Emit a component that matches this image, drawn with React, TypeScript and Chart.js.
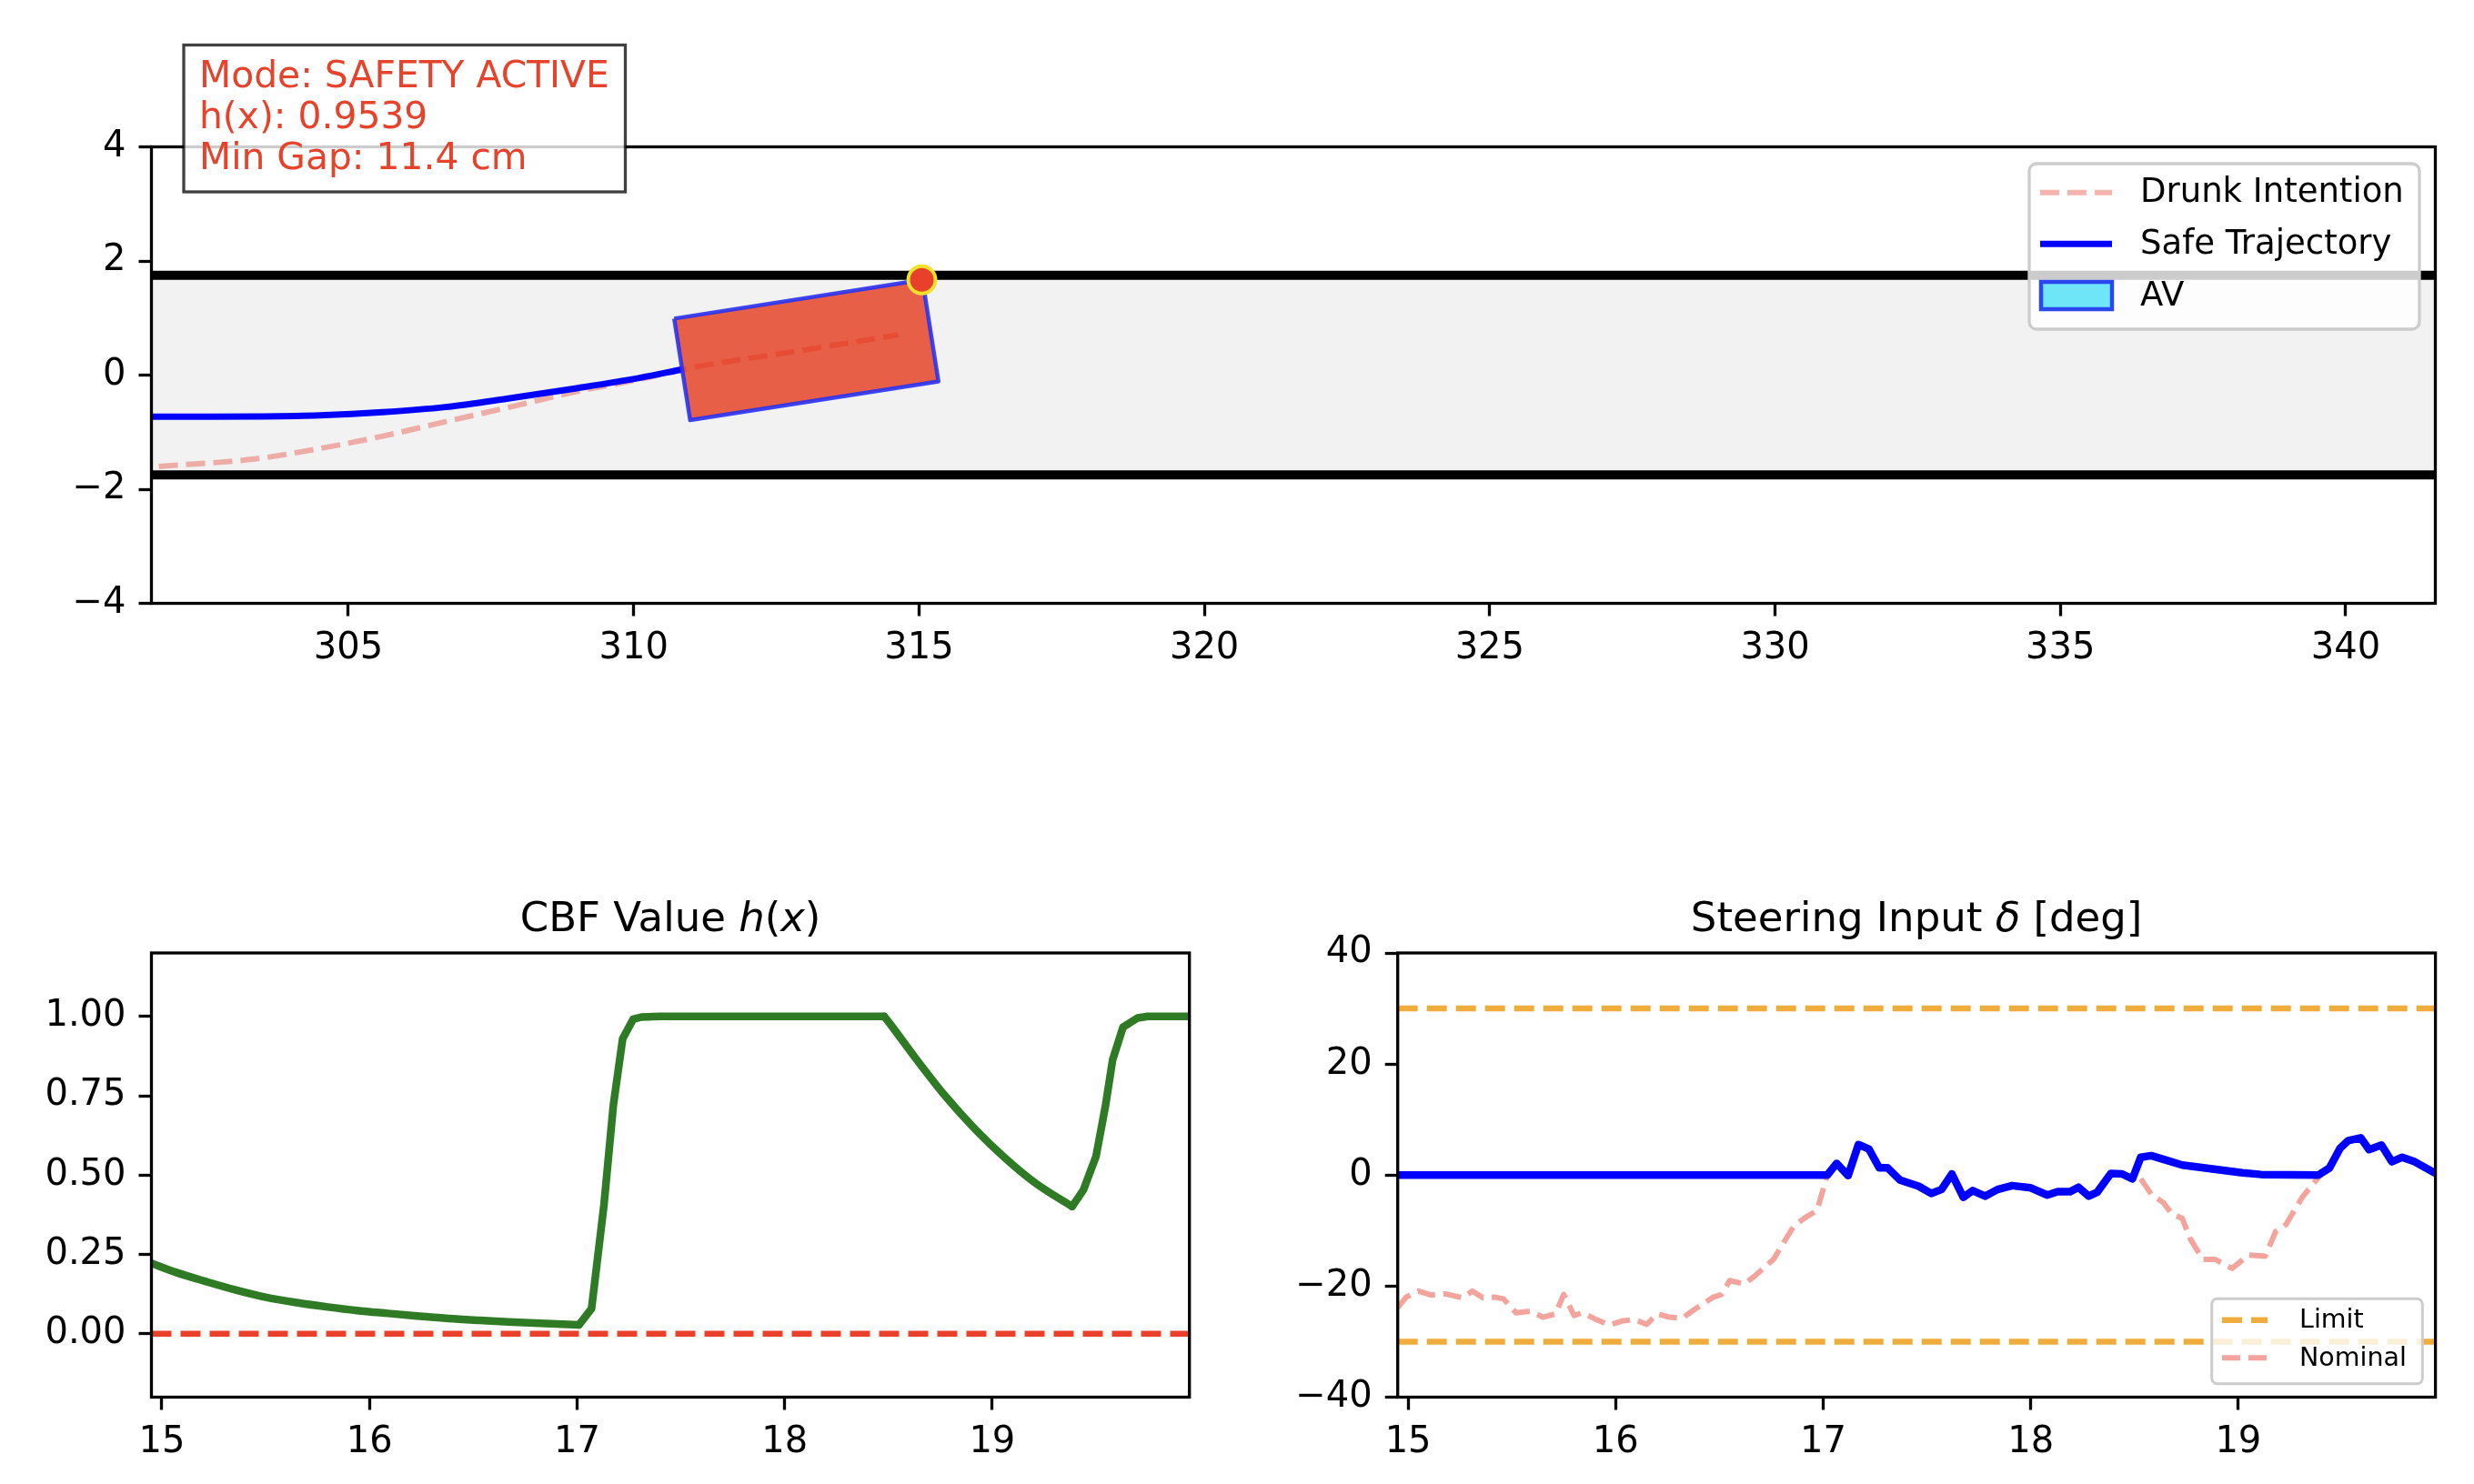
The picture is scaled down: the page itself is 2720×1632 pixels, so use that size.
import React, { useEffect, useRef } from 'react';
import { Chart, registerables } from 'chart.js';

Chart.register(...registerables);

const FONT = '"DejaVu Sans", "Liberation Sans", sans-serif';
const RED = '#e5432b';

// ---------------- Road (top) view ----------------
const roadXTicks = [305, 310, 315, 320, 325, 330, 335, 340];
const roadYTicks = [-4, -2, 0, 2, 4];
const roadXLim = [301.55, 341.57];
const roadYLim = [-4, 4];
const laneEdges = [1.75, -1.75];

const safeTrajX = [301.5, 302.5, 303.5, 304.5, 305.6, 306.7, 307.8, 309.0, 310.1, 310.85];
const safeTrajY = [-0.73, -0.73, -0.725, -0.705, -0.65, -0.56, -0.41, -0.23, -0.05, 0.1];

const drunkX = [301.68, 303.36, 304.48, 305.6, 306.71, 307.83, 308.95, 310.07, 311.05, 312.8, 314.64];
const drunkY = [-1.6, -1.47, -1.29, -1.07, -0.815, -0.56, -0.3, -0.08, 0.136, 0.41, 0.705];

const carX = [310.71, 315.06, 315.34, 310.99];
const carY = [0.99, 1.67, -0.11, -0.79];

const collisionX = [315.05];
const collisionY = [1.67];

const infoLines = ['Mode: SAFETY ACTIVE', 'h(x): 0.9539', 'Min Gap: 11.4 cm'];
const roadLegend = ['Drunk Intention', 'Safe Trajectory', 'AV'];

// ---------------- CBF value ----------------
const timeLim = [14.95, 19.95];
const timeTicks = [15, 16, 17, 18, 19];
const cbfLim = [-0.2, 1.2];
const cbfTicks = [0, 0.25, 0.5, 0.75, 1.0];
// smooth decay before intervention
const cbfDecay1T = [14.95, 15.07, 15.21, 15.36, 15.5, 15.65, 15.8, 15.94, 16.09, 16.23, 16.38, 16.53, 16.67, 16.85, 17.01];
const cbfDecay1H = [0.222, 0.193, 0.165, 0.137, 0.115, 0.098, 0.084, 0.073, 0.064, 0.056, 0.048, 0.042, 0.037, 0.032, 0.028];
// recovery and plateau
const cbfRiseT = [17.01, 17.07, 17.13, 17.175, 17.22, 17.27, 17.31, 17.4, 18.48];
const cbfRiseH = [0.028, 0.079, 0.407, 0.72, 0.93, 0.991, 0.998, 1.0, 1.0];
// second decay
const cbfDecay2T = [18.48, 18.52, 18.63, 18.77, 18.92, 19.06, 19.21, 19.385];
const cbfDecay2H = [1.0, 0.966, 0.869, 0.752, 0.643, 0.555, 0.474, 0.401];
// second recovery
const cbfRise2T = [19.385, 19.44, 19.5, 19.546, 19.58, 19.63, 19.7, 19.75, 19.95];
const cbfRise2H = [0.401, 0.454, 0.559, 0.72, 0.863, 0.966, 0.995, 1.0, 1.0];
const cbfBoundary = 0;

// ---------------- Steering input ----------------
const steerLim = [-40, 40];
const steerTicks = [-40, -20, 0, 20, 40];
const steerLimit = 30;
const safeSteerT = [
  14.95, 17.02, 17.065, 17.12, 17.17, 17.22, 17.27, 17.31, 17.37, 17.46, 17.52, 17.57, 17.62,
  17.675, 17.72, 17.78, 17.84, 17.91, 18.0, 18.08, 18.13, 18.19, 18.23, 18.28, 18.32, 18.386,
  18.44, 18.49, 18.53, 18.58, 18.66, 18.73, 18.875, 19.02, 19.11, 19.386, 19.44, 19.49, 19.53,
  19.59, 19.63, 19.69, 19.74, 19.79, 19.85, 19.95,
];
const safeSteer = [
  0, 0, 2.1, -0.1, 5.5, 4.7, 1.3, 1.3, -0.9, -2.0, -3.3, -2.6, 0.2,
  -4.0, -2.8, -3.8, -2.6, -1.9, -2.3, -3.6, -3.0, -3.0, -2.2, -3.8, -3.1, 0.3,
  0.2, -0.7, 3.2, 3.5, 2.6, 1.8, 1.1, 0.4, 0.1, 0.0, 1.3, 4.8, 6.2,
  6.7, 4.6, 5.4, 2.4, 3.2, 2.4, 0.3,
];
const nomSteerT = [
  14.95, 14.99, 15.05, 15.11, 15.18, 15.26, 15.31, 15.36, 15.42, 15.46, 15.52, 15.59, 15.65,
  15.71, 15.75, 15.8, 15.84, 15.9, 15.97, 16.03, 16.09, 16.15, 16.2, 16.26, 16.32, 16.38, 16.47,
  16.51, 16.55, 16.62, 16.67, 16.76, 16.86, 16.92, 16.97, 17.02, 17.065, 17.12, 17.17, 17.22,
  17.27, 17.31, 17.37, 17.46, 17.52, 17.57, 17.62, 17.675, 17.72, 17.78, 17.84, 17.91, 18.0,
  18.08, 18.13, 18.19, 18.23, 18.28, 18.32, 18.386, 18.44, 18.49, 18.52, 18.58, 18.64, 18.68,
  18.73, 18.77, 18.83, 18.89, 18.93, 18.97, 19.05, 19.13, 19.18, 19.23, 19.31, 19.4, 19.44,
  19.49, 19.53, 19.59, 19.63, 19.69, 19.74, 19.79, 19.85, 19.95,
];
const nomSteer = [
  -23.9, -22.0, -20.9, -21.6, -21.4, -22.1, -20.9, -22.1, -22.0, -22.3, -24.8, -24.5, -25.6,
  -25.0, -21.5, -25.3, -24.8, -25.9, -27.0, -26.3, -26.0, -26.9, -25.0, -25.6, -25.8, -24.2, -22.0,
  -21.5, -19.0, -19.6, -18.2, -15.2, -9.1, -7.5, -6.4, 0.0, 2.1, -0.1, 5.5, 4.7,
  1.3, 1.3, -0.9, -2.0, -3.3, -2.6, 0.2, -4.0, -2.8, -3.8, -2.6, -1.9, -2.3,
  -3.6, -3.0, -3.0, -2.2, -3.8, -3.1, 0.3, 0.2, -0.7, -0.1, -3.4, -5.0, -7.0,
  -7.8, -11.6, -15.2, -15.2, -16.0, -16.8, -14.4, -14.6, -10.2, -8.9, -3.9, 0.2, 1.3,
  4.8, 6.2, 6.7, 4.6, 5.4, 2.4, 3.2, 2.4, 0.3,
];
const steerLegend = ['Limit', 'Nominal'];

// ---------------- helpers ----------------
const zip = (xs: number[], ys: number[]) => xs.map((x, i) => ({ x, y: ys[i] }));
const fmtInt = (v: number) => (v < 0 ? '\u2212' + Math.abs(v) : String(v));
const fmt2 = (v: number) => v.toFixed(2);

function linAxis(lim: number[], ticks: number[], fmt: (v: number) => string, size: number, isX: boolean, pad: number) {
  return {
    type: 'linear',
    min: lim[0],
    max: lim[1],
    afterBuildTicks: (s: any) => {
      s.ticks = ticks.map((v) => ({ value: v }));
    },
    afterFit: (s: any) => {
      if (isX) s.height = size;
      else s.width = size;
    },
    grid: { display: true, drawOnChartArea: false, drawTicks: true, tickLength: 14, tickWidth: 3.3, tickColor: '#000' },
    border: { display: false },
    ticks: {
      autoSkip: false,
      maxRotation: 0,
      minRotation: 0,
      color: '#000',
      padding: pad,
      font: { family: FONT, size: 40 },
      callback: (v: any) => fmt(Number(v)),
    },
  };
}

const framePlugin = {
  id: 'frame',
  afterDatasetsDraw(chart: any) {
    const { ctx, chartArea: a } = chart;
    ctx.save();
    ctx.strokeStyle = '#000';
    ctx.lineWidth = 3.3;
    ctx.strokeRect(a.left, a.top, a.right - a.left, a.bottom - a.top);
    ctx.restore();
  },
};

function titlePlugin(segments: { text: string; italic: boolean }[]) {
  return {
    id: 'mtitle',
    afterDraw(chart: any) {
      const { ctx, chartArea: a } = chart;
      ctx.save();
      const fontOf = (it: boolean) => `${it ? 'italic ' : ''}45px ${FONT}`;
      let total = 0;
      segments.forEach((s) => {
        ctx.font = fontOf(s.italic);
        total += ctx.measureText(s.text).width;
      });
      let x = (a.left + a.right) / 2 - total / 2;
      const y = a.top - 24;
      ctx.fillStyle = '#000';
      ctx.textAlign = 'left';
      ctx.textBaseline = 'alphabetic';
      segments.forEach((s) => {
        ctx.font = fontOf(s.italic);
        ctx.fillText(s.text, x, y);
        x += ctx.measureText(s.text).width;
      });
      ctx.restore();
    },
  };
}

function baseOptions(padding: any, x: any, y: any) {
  return {
    responsive: false,
    animation: false,
    devicePixelRatio: 1,
    events: [],
    layout: { padding },
    plugins: { legend: { display: false }, tooltip: { enabled: false }, title: { display: false } },
    elements: { point: { radius: 0 }, line: { borderJoinStyle: 'round' } },
    scales: { x, y },
  };
}

// ---------------- chart configs ----------------
function roadConfig(): any {
  const roadOverlay = {
    id: 'roadOverlay',
    afterDraw(chart: any) {
      const ctx = chart.ctx;
      ctx.save();
      // info box
      ctx.fillStyle = 'rgba(255,255,255,0.8)';
      ctx.fillRect(202, 49.5, 485.5, 161.5);
      ctx.strokeStyle = 'rgba(0,0,0,0.75)';
      ctx.lineWidth = 3.3;
      ctx.strokeRect(202, 49.5, 485.5, 161.5);
      ctx.fillStyle = RED;
      ctx.font = `40.8px ${FONT}`;
      ctx.textAlign = 'left';
      ctx.textBaseline = 'alphabetic';
      infoLines.forEach((t, i) => ctx.fillText(t, 219, 95.5 + i * 45.3));
      // legend
      ctx.beginPath();
      ctx.roundRect(2231, 180, 429, 182, 8);
      ctx.fillStyle = 'rgba(255,255,255,0.8)';
      ctx.fill();
      ctx.strokeStyle = '#cccccc';
      ctx.lineWidth = 3.3;
      ctx.stroke();
      const rows = [211.7, 268.3, 325];
      // drunk intention handle
      ctx.beginPath();
      ctx.setLineDash([21, 9]);
      ctx.strokeStyle = 'rgba(231,76,60,0.42)';
      ctx.lineWidth = 6;
      ctx.moveTo(2243, rows[0]);
      ctx.lineTo(2322, rows[0]);
      ctx.stroke();
      ctx.setLineDash([]);
      // safe trajectory handle
      ctx.beginPath();
      ctx.strokeStyle = '#0000ff';
      ctx.lineWidth = 7;
      ctx.moveTo(2243, rows[1]);
      ctx.lineTo(2322, rows[1]);
      ctx.stroke();
      // AV patch
      ctx.fillStyle = '#6ee6f8';
      ctx.fillRect(2244, rows[2] - 15, 78, 30);
      ctx.strokeStyle = '#2a46ee';
      ctx.lineWidth = 4.5;
      ctx.strokeRect(2244, rows[2] - 15, 78, 30);
      ctx.fillStyle = '#000';
      ctx.font = `37px ${FONT}`;
      ctx.textBaseline = 'middle';
      roadLegend.forEach((t, i) => ctx.fillText(t, 2353, rows[i] + 1));
      ctx.restore();
    },
  };
  const datasets: any[] = [
    {
      data: zip(roadXLim, [laneEdges[0], laneEdges[0]]),
      borderColor: '#000',
      borderWidth: 10,
      fill: '+1',
      backgroundColor: '#f2f2f2',
      order: 10,
    },
    {
      data: zip(roadXLim, [laneEdges[1], laneEdges[1]]),
      borderColor: '#000',
      borderWidth: 10,
      fill: false,
      order: 9,
    },
    {
      data: zip(drunkX, drunkY),
      borderColor: 'rgba(231,76,60,0.42)',
      borderWidth: 6,
      borderDash: [21, 9],
      cubicInterpolationMode: 'monotone',
      fill: false,
      order: 8,
    },
    {
      data: zip(safeTrajX, safeTrajY),
      borderColor: '#0000ff',
      borderWidth: 7,
      cubicInterpolationMode: 'monotone',
      fill: false,
      order: 7,
    },
    {
      data: zip([...carX, carX[0]], [...carY, carY[0]]),
      borderColor: 'rgba(40,50,240,0.9)',
      backgroundColor: 'rgba(228,45,15,0.75)',
      borderWidth: 4.5,
      fill: 'shape',
      order: 6,
    },
    {
      data: zip(collisionX, collisionY),
      showLine: false,
      pointRadius: 15,
      pointBackgroundColor: '#e8402a',
      pointBorderColor: '#f2e12a',
      pointBorderWidth: 4,
      order: 1,
      clip: false,
    },
  ];
  return {
    type: 'line',
    data: { datasets },
    options: baseOptions(
      { left: 0, top: 161.5, right: 42.5, bottom: 16.5 },
      linAxis(roadXLim, roadXTicks, fmtInt, 80, true, 12),
      linAxis(roadYLim, roadYTicks, fmtInt, 166.5, false, 14)
    ),
    plugins: [framePlugin, roadOverlay],
  };
}

function cbfConfig(): any {
  const green = (t: number[], h: number[], smooth: boolean) => ({
    data: zip(t, h),
    borderColor: '#2f7a24',
    borderWidth: 8.5,
    borderCapStyle: 'round',
    cubicInterpolationMode: smooth ? 'monotone' : 'default',
    tension: 0,
    fill: false,
    order: 1,
  });
  const datasets: any[] = [
    {
      data: zip(timeLim, [cbfBoundary, cbfBoundary]),
      borderColor: '#e8402a',
      borderWidth: 6.5,
      borderDash: [22, 10],
      fill: false,
      order: 5,
    },
    green(cbfDecay1T, cbfDecay1H, true),
    green(cbfRiseT, cbfRiseH, false),
    green(cbfDecay2T, cbfDecay2H, true),
    green(cbfRise2T, cbfRise2H, false),
  ];
  return {
    type: 'line',
    data: { datasets },
    options: baseOptions(
      { left: 0, top: 108, right: 92.3, bottom: 15.5 },
      linAxis(timeLim, timeTicks, fmtInt, 80, true, 12),
      linAxis(cbfLim, cbfTicks, fmt2, 166.5, false, 14)
    ),
    plugins: [
      framePlugin,
      titlePlugin([
        { text: 'CBF Value ', italic: false },
        { text: 'h', italic: true },
        { text: '(', italic: false },
        { text: 'x', italic: true },
        { text: ')', italic: false },
      ]),
    ],
  };
}

function steerConfig(): any {
  const steerOverlay = {
    id: 'steerOverlay',
    afterDraw(chart: any) {
      const ctx = chart.ctx;
      const ox = 1380;
      const oy = 940;
      ctx.save();
      ctx.beginPath();
      ctx.roundRect(2431.7 - ox, 1428.3 - oy, 231.6, 93.4, 6);
      ctx.fillStyle = 'rgba(255,255,255,0.8)';
      ctx.fill();
      ctx.strokeStyle = '#cccccc';
      ctx.lineWidth = 3;
      ctx.stroke();
      const rows = [1451.7 - oy, 1493.3 - oy];
      const cols = ['#f0ad3c', 'rgba(231,76,60,0.5)'];
      const widths = [6.5, 6];
      const dashes = [[22, 10], [20, 9]];
      rows.forEach((r, i) => {
        ctx.beginPath();
        ctx.setLineDash(dashes[i]);
        ctx.strokeStyle = cols[i];
        ctx.lineWidth = widths[i];
        ctx.moveTo(2443 - ox, r);
        ctx.lineTo(2493 - ox, r);
        ctx.stroke();
      });
      ctx.setLineDash([]);
      ctx.fillStyle = '#000';
      ctx.font = `28.5px ${FONT}`;
      ctx.textAlign = 'left';
      ctx.textBaseline = 'middle';
      steerLegend.forEach((t, i) => ctx.fillText(t, 2528 - ox, rows[i] + 1));
      ctx.restore();
    },
  };
  const datasets: any[] = [
    {
      data: zip(timeLim, [steerLimit, steerLimit]),
      borderColor: '#f0ad3c',
      borderWidth: 6.5,
      borderDash: [22, 10],
      fill: false,
      order: 6,
    },
    {
      data: zip(timeLim, [-steerLimit, -steerLimit]),
      borderColor: '#f0ad3c',
      borderWidth: 6.5,
      borderDash: [22, 10],
      fill: false,
      order: 5,
    },
    {
      data: zip(nomSteerT, nomSteer),
      borderColor: 'rgba(231,76,60,0.5)',
      borderWidth: 6,
      borderDash: [20, 9],
      fill: false,
      order: 4,
    },
    {
      data: zip(safeSteerT, safeSteer),
      borderColor: '#0000ff',
      borderWidth: 8.5,
      fill: false,
      order: 1,
    },
  ];
  return {
    type: 'line',
    data: { datasets },
    options: baseOptions(
      { left: 0, top: 108, right: 42.4, bottom: 15.5 },
      linAxis(timeLim, timeTicks, fmtInt, 80, true, 12),
      linAxis(steerLim, steerTicks, fmtInt, 156.7, false, 14)
    ),
    plugins: [
      framePlugin,
      titlePlugin([
        { text: 'Steering Input ', italic: false },
        { text: '\u03b4', italic: true },
        { text: ' [deg]', italic: false },
      ]),
      steerOverlay,
    ],
  };
}

function ChartCanvas({ left, top, width, height, build }: { left: number; top: number; width: number; height: number; build: () => any }) {
  const ref = useRef<HTMLCanvasElement>(null);
  useEffect(() => {
    const chart = new Chart(ref.current as HTMLCanvasElement, build());
    return () => chart.destroy();
  }, []);
  return (
    <canvas
      ref={ref}
      width={width}
      height={height}
      style={{ position: 'absolute', left, top, width, height, display: 'block' }}
    />
  );
}

export default function App() {
  return (
    <div style={{ position: 'absolute', left: 0, top: 0, width: 2720, height: 1632, background: '#fff', overflow: 'hidden' }}>
      <ChartCanvas left={0} top={0} width={2720} height={760} build={roadConfig} />
      <ChartCanvas left={0} top={940} width={1400} height={692} build={cbfConfig} />
      <ChartCanvas left={1380} top={940} width={1340} height={692} build={steerConfig} />
    </div>
  );
}
